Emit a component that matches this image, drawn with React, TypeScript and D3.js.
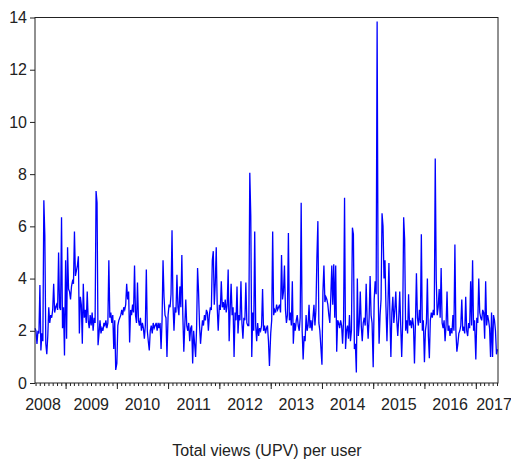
import { useEffect, useRef } from "react"
import * as d3 from "d3"

// weekly readings, one array per calendar year (2008 starts late May, 2017 ends early June)
const v2008 = [2.1, 2.0, 1.5, 2.0, 1.9, 3.75, 1.25, 1.9, 1.6, 7.0, 5.65, 1.5, 1.1, 1.8, 2.9, 2.3, 2.6, 2.5, 2.8, 3.8, 2.7, 2.9, 3.0, 2.8, 5.0, 2.9, 2.8, 6.35, 2.1, 2.9, 1.05]
const v2009 = [4.7, 1.7, 5.2, 3.6, 3.5, 3.2, 3.7, 3.9, 3.8, 5.8, 4.1, 4.3, 4.5, 4.85, 1.9, 3.3, 3.0, 1.5, 3.8, 2.5, 2.8, 2.3, 3.5, 2.4, 2.1, 2.6, 2.2, 2.7, 2.0, 2.5, 2.3, 7.35, 6.9, 1.45, 1.9, 2.4, 1.9, 2.1, 2.0, 2.3, 2.2, 2.4, 2.1, 2.3, 4.7, 2.5, 2.7, 2.3, 2.6, 1.3, 2.4, 0.5]
const v2010 = [0.75, 2.2, 2.4, 2.5, 2.6, 2.8, 2.6, 2.9, 2.8, 3.0, 3.8, 3.2, 3.5, 1.55, 2.8, 2.6, 3.0, 2.7, 4.5, 2.6, 2.3, 3.85, 2.4, 2.2, 2.5, 2.0, 2.3, 2.1, 1.7, 2.2, 4.35, 2.0, 1.6, 1.25, 2.0, 2.2, 1.9, 2.3, 2.1, 2.2, 2.3, 2.0, 2.3, 2.1, 2.3, 1.3, 2.4, 4.7, 3.3, 2.6, 2.5, 1.0]
const v2011 = [2.6, 3.0, 2.9, 3.4, 5.85, 3.0, 2.0, 2.9, 2.7, 4.15, 2.9, 2.6, 3.7, 2.9, 4.9, 2.6, 1.2, 2.2, 3.2, 2.2, 2.0, 2.3, 1.6, 2.1, 2.2, 0.75, 2.0, 1.5, 1.0, 2.1, 4.4, 3.5, 2.2, 1.5, 2.0, 2.4, 2.2, 2.6, 2.4, 2.8, 2.7, 2.0, 2.6, 2.9, 2.8, 4.7, 5.05, 3.0, 3.8, 5.2, 2.9, 2.0]
const v2012 = [3.0, 2.8, 3.9, 2.9, 3.1, 2.8, 3.2, 2.7, 3.0, 4.35, 1.6, 2.8, 3.8, 2.6, 2.9, 1.0, 2.7, 2.4, 3.7, 1.9, 2.6, 2.4, 3.9, 2.3, 1.7, 2.5, 2.4, 3.85, 2.3, 2.2, 2.2, 8.05, 6.4, 1.0, 2.7, 2.0, 5.8, 2.2, 1.6, 2.3, 1.8, 2.1, 2.0, 2.2, 3.6, 2.0, 2.2, 1.9, 2.1, 2.2, 1.6, 0.65]
const v2013 = [1.9, 2.4, 5.8, 2.6, 2.8, 2.7, 3.0, 2.8, 2.9, 3.0, 2.7, 4.9, 3.2, 3.5, 4.5, 2.8, 2.3, 2.6, 5.75, 2.4, 2.7, 2.2, 3.9, 1.5, 2.3, 2.0, 2.4, 2.6, 2.2, 2.0, 2.5, 6.9, 2.0, 0.9, 1.8, 1.6, 2.6, 2.0, 2.2, 3.0, 2.1, 2.4, 2.0, 2.5, 3.0, 2.2, 2.8, 4.8, 6.2, 2.3, 2.0, 1.4]
const v2014 = [0.7, 3.5, 4.5, 3.1, 3.3, 3.2, 3.0, 2.6, 2.3, 3.3, 4.5, 3.0, 4.55, 2.5, 4.5, 1.2, 2.4, 2.3, 2.1, 2.4, 2.2, 1.5, 2.4, 7.1, 1.3, 2.0, 2.2, 1.7, 2.6, 1.6, 2.0, 5.95, 5.7, 1.3, 1.5, 0.4, 4.0, 1.8, 2.3, 3.5, 2.2, 1.6, 2.3, 2.5, 2.2, 3.8, 2.4, 1.7, 2.5, 4.1, 2.6, 2.3]
const v2015 = [0.6, 3.2, 3.9, 3.4, 13.85, 3.6, 1.5, 2.6, 3.2, 6.5, 6.0, 4.0, 4.7, 2.9, 1.6, 3.0, 4.6, 2.6, 1.0, 2.7, 3.3, 2.3, 2.8, 3.5, 2.4, 1.8, 2.5, 3.5, 2.2, 1.0, 2.3, 6.35, 5.5, 2.0, 2.4, 1.9, 3.4, 2.2, 2.4, 2.1, 2.5, 2.2, 0.75, 2.3, 4.2, 2.5, 2.2, 2.8, 2.3, 5.7, 2.0, 2.4]
const v2016 = [0.8, 2.0, 2.3, 4.0, 1.8, 0.95, 2.4, 2.7, 2.5, 2.8, 2.6, 8.6, 4.0, 2.6, 2.9, 3.6, 2.5, 4.4, 2.3, 2.1, 2.4, 1.6, 2.2, 3.5, 2.0, 2.2, 1.8, 2.1, 1.9, 2.6, 2.0, 5.3, 2.0, 1.2, 1.5, 1.9, 2.0, 2.2, 3.2, 2.0, 2.1, 1.9, 3.3, 2.0, 1.8, 2.3, 2.1, 3.9, 2.2, 4.7, 2.0, 2.4]
const v2017 = [0.9, 2.5, 2.3, 4.0, 2.7, 2.5, 2.4, 2.8, 2.7, 1.7, 3.9, 2.2, 2.6, 2.4, 2.1, 1.0, 2.7, 1.0, 2.6, 2.4, 2.0, 1.1, 1.3]

const yTicks = [0, 2, 4, 6, 8, 10, 12, 14]
const years = [2008, 2009, 2010, 2011, 2012, 2013, 2014, 2015, 2016, 2017]
const title = "Total views (UPV) per user"

const FONT = "'Liberation Sans Narrow', 'Arial Narrow', 'Liberation Sans', sans-serif"

function buildSeries() {
  const out: { date: Date; value: number }[] = []
  const start2008 = new Date(2008, 4, 28)
  v2008.forEach((v, i) => out.push({ date: d3.timeDay.offset(start2008, 7 * i), value: v }))
  const rest: [number, number[]][] = [
    [2009, v2009], [2010, v2010], [2011, v2011], [2012, v2012], [2013, v2013],
    [2014, v2014], [2015, v2015], [2016, v2016], [2017, v2017],
  ]
  rest.forEach(([yr, arr]) => {
    const s = new Date(yr, 0, 1)
    arr.forEach((v, i) => out.push({ date: d3.timeDay.offset(s, 7 * i), value: v }))
  })
  return out
}

export default function App() {
  const svgRef = useRef<SVGSVGElement>(null)

  useEffect(() => {
    if (!svgRef.current) return
    const svg = d3.select(svgRef.current)
    svg.selectAll("*").remove()

    const data = buildSeries()
    const left = 35, right = 498, top = 17.5, bottom = 383

    const x = d3
      .scaleTime()
      .domain([new Date(2008, 4, 28), new Date(2017, 5, 8)])
      .range([left, right])
    const y = d3.scaleLinear().domain([0, 14]).range([bottom, top])

    svg.append("rect").attr("width", 511).attr("height", 462).attr("fill", "#fff")

    // the series
    svg.append("path")
      .datum(data)
      .attr("fill", "none")
      .attr("stroke", "#0000ff")
      .attr("stroke-width", 1.3)
      .attr("d", d3.line<{ date: Date; value: number }>().x((d) => x(d.date)).y((d) => y(d.value)))

    // frame
    svg.append("rect")
      .attr("x", left)
      .attr("y", top)
      .attr("width", right - left)
      .attr("height", bottom - top)
      .attr("fill", "none")
      .attr("stroke", "#222")
      .attr("stroke-width", 1)

    // y axis
    const yAxis = svg.append("g")
      .attr("transform", `translate(${left},0)`)
      .call(d3.axisLeft(y).tickValues(yTicks).tickSize(5).tickPadding(3).tickFormat(d3.format("d")))
    yAxis.select(".domain").remove()
    yAxis.selectAll("line").attr("stroke", "#222")
    yAxis.selectAll("text").attr("font-family", FONT).attr("font-size", 16).attr("fill", "#222")

    // x axis: monthly minor ticks, yearly major ticks
    const minor = svg.append("g")
      .attr("transform", `translate(0,${bottom})`)
      .call(d3.axisBottom(x).ticks(d3.timeMonth.every(1)).tickSize(3).tickFormat(() => ""))
    minor.select(".domain").remove()
    minor.selectAll("line").attr("stroke", "#222")

    const major = svg.append("g")
      .attr("transform", `translate(0,${bottom})`)
      .call(d3.axisBottom(x).ticks(d3.timeYear.every(1)).tickSize(6).tickFormat(() => ""))
    major.select(".domain").remove()
    major.selectAll("line").attr("stroke", "#222")

    // year labels centred on each year span
    svg.append("g")
      .selectAll("text")
      .data(years)
      .enter()
      .append("text")
      .attr("x", (yr) => {
        const mid = (x(new Date(yr, 0, 1)) + x(new Date(yr + 1, 0, 1))) / 2
        return Math.max(left + 8, Math.min(right - 4, mid))
      })
      .attr("y", 410)
      .attr("text-anchor", "middle")
      .attr("font-family", FONT)
      .attr("font-size", 16)
      .attr("fill", "#222")
      .text((yr) => String(yr))

    svg.append("text")
      .attr("x", 267)
      .attr("y", 456)
      .attr("text-anchor", "middle")
      .attr("font-family", FONT)
      .attr("font-size", 16)
      .attr("fill", "#222")
      .text(title)
  }, [])

  return (
    <div style={{ position: "fixed", left: 0, top: 0 }}>
      <svg ref={svgRef} width={511} height={462} style={{ display: "block" }} />
    </div>
  )
}
